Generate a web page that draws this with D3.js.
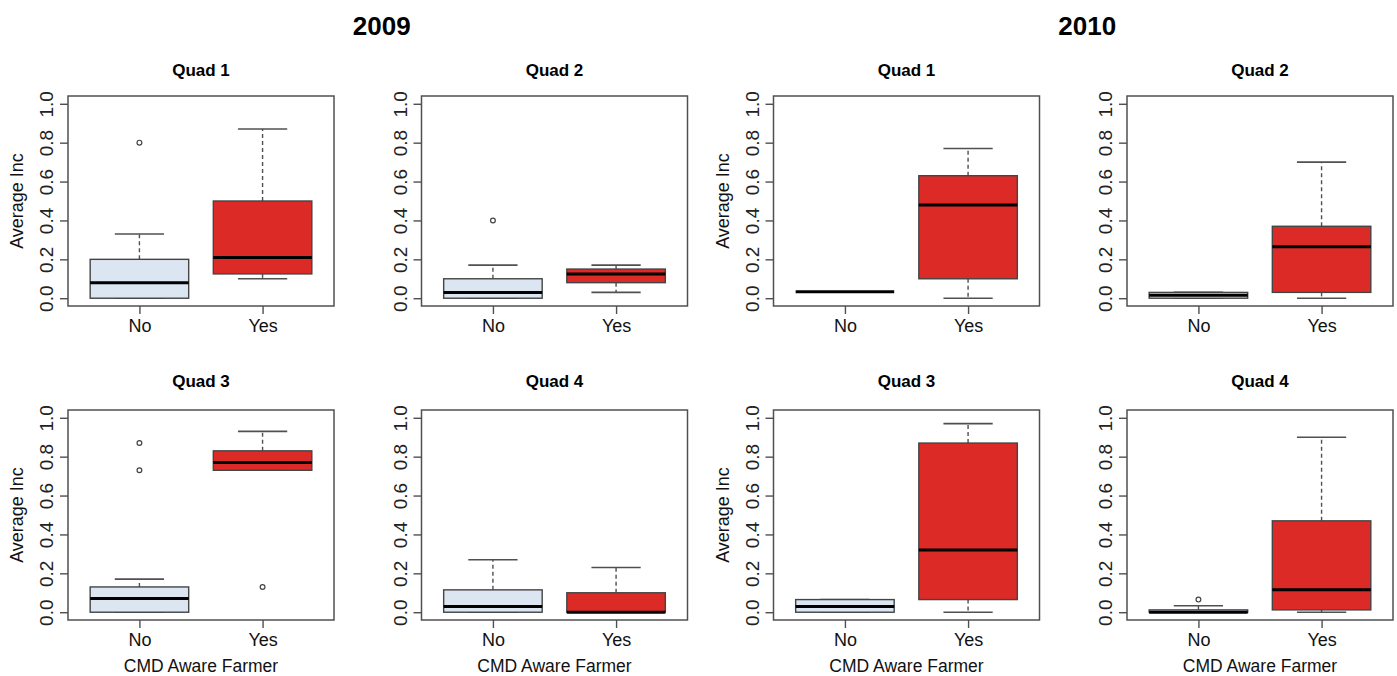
<!DOCTYPE html>
<html>
<head>
<meta charset="utf-8">
<script src="https://cdn.jsdelivr.net/npm/d3@7"></script>
<style>
  html, body { margin: 0; padding: 0; background: #fff; }
  svg { display: block; font-family: "Liberation Sans", Arial, Helvetica, sans-serif; }
</style>
</head>
<body>
<svg id="chart" width="1397" height="676"></svg>
<script>
// ---------------- data ----------------
const years = ["2009", "2010"];
const quads = ["Quad 1", "Quad 2", "Quad 3", "Quad 4"];
const categories = ["No", "Yes"];
const yTicks = [0.0, 0.2, 0.4, 0.6, 0.8, 1.0];
const yLabel = "Average Inc";
const xLabel = "CMD Aware Farmer";

// five-number summaries per quad: [lower whisker, Q1, median, Q3, upper whisker]
const stats2009No  = [[0, 0, 0.08, 0.20, 0.33], [0, 0, 0.03, 0.10, 0.17], [0, 0, 0.07, 0.13, 0.17], [0, 0, 0.03, 0.115, 0.27]];
const stats2009Yes = [[0.10, 0.125, 0.21, 0.50, 0.87], [0.03, 0.08, 0.125, 0.15, 0.17], [0.73, 0.73, 0.77, 0.83, 0.93], [0, 0, 0, 0.10, 0.23]];
const stats2010No  = [[0.033, 0.033, 0.033, 0.033, 0.033], [0, 0, 0.015, 0.03, 0.03], [0, 0, 0.03, 0.065, 0.065], [0, 0, 0, 0.012, 0.033]];
const stats2010Yes = [[0, 0.10, 0.48, 0.63, 0.77], [0, 0.03, 0.265, 0.37, 0.70], [0, 0.065, 0.32, 0.87, 0.97], [0, 0.012, 0.115, 0.47, 0.90]];

// outliers per quad
const out2009No  = [[0.80], [0.40], [0.87, 0.73], []];
const out2009Yes = [[], [], [0.13], []];
const out2010No  = [[], [], [], [0.065]];
const out2010Yes = [[], [], [], []];

const statsByYear = { "2009": [stats2009No, stats2009Yes], "2010": [stats2010No, stats2010Yes] };
const outByYear   = { "2009": [out2009No, out2009Yes],     "2010": [out2010No, out2010Yes] };

// ---------------- layout ----------------
const colLeft = [68, 421.5, 773.5, 1127];
const rowTop = [96, 410];
const pw = 266, ph = 210;
const fillColors = ["#dce6f2", "#dc2b27"];
const frameColor = "#505050";

const svg = d3.select("#chart");

// year titles
years.forEach((yr, yi) => {
  const c0 = colLeft[yi * 2] + pw / 2, c1 = colLeft[yi * 2 + 1] + pw / 2;
  svg.append("text")
    .attr("x", (c0 + c1) / 2 + 4)
    .attr("y", 35)
    .attr("text-anchor", "middle")
    .attr("font-size", 26)
    .attr("font-weight", "bold")
    .attr("fill", "#000")
    .text(yr);
});

years.forEach((yr, yi) => {
  quads.forEach((q, qi) => {
    const col = yi * 2 + (qi % 2);
    const row = Math.floor(qi / 2);
    const left = colLeft[col], top = rowTop[row];

    const x = d3.scaleLinear().domain([0.42, 2.58]).range([0, pw]);
    const y = d3.scaleLinear().domain([-0.04, 1.04]).range([ph, 0]);

    const g = svg.append("g").attr("transform", `translate(${left},${top})`);

    // title
    g.append("text")
      .attr("x", pw / 2)
      .attr("y", row === 0 ? -20 : -23)
      .attr("text-anchor", "middle")
      .attr("font-size", 17)
      .attr("font-weight", "bold")
      .attr("fill", "#000")
      .text(q);

    // boxes
    categories.forEach((cat, ci) => {
      const s = statsByYear[yr][ci][qi];
      const outs = outByYear[yr][ci][qi];
      const cx = x(ci + 1);
      const bw = x(1.4) - x(0.6);
      const sw = bw / 2;

      // whiskers (dashed)
      g.append("line")
        .attr("x1", cx).attr("x2", cx)
        .attr("y1", y(s[3])).attr("y2", y(s[4]))
        .attr("stroke", frameColor).attr("stroke-width", 1.4)
        .attr("stroke-dasharray", "4,3");
      g.append("line")
        .attr("x1", cx).attr("x2", cx)
        .attr("y1", y(s[1])).attr("y2", y(s[0]))
        .attr("stroke", frameColor).attr("stroke-width", 1.4)
        .attr("stroke-dasharray", "4,3");
      // staples
      [s[0], s[4]].forEach(v => {
        g.append("line")
          .attr("x1", cx - sw / 2).attr("x2", cx + sw / 2)
          .attr("y1", y(v)).attr("y2", y(v))
          .attr("stroke", frameColor).attr("stroke-width", 1.6);
      });
      // box
      g.append("rect")
        .attr("x", cx - bw / 2)
        .attr("y", y(s[3]))
        .attr("width", bw)
        .attr("height", Math.max(0, y(s[1]) - y(s[3])))
        .attr("fill", fillColors[ci])
        .attr("stroke", "#444")
        .attr("stroke-width", 1.4);
      // median
      g.append("line")
        .attr("x1", cx - bw / 2).attr("x2", cx + bw / 2)
        .attr("y1", y(s[2])).attr("y2", y(s[2]))
        .attr("stroke", "#000").attr("stroke-width", 3);
      // outliers
      outs.forEach(v => {
        g.append("circle")
          .attr("cx", cx).attr("cy", y(v)).attr("r", 2.4)
          .attr("fill", "none").attr("stroke", "#444").attr("stroke-width", 1.2);
      });
    });

    // y axis
    const ya = g.append("g")
      .call(d3.axisLeft(y).tickValues(yTicks).tickFormat(d3.format(".1f")).tickSize(8).tickSizeOuter(0));
    ya.select(".domain").remove();
    ya.selectAll(".tick line").attr("stroke", frameColor).attr("stroke-width", 1.4);
    ya.selectAll(".tick text")
      .attr("x", null).attr("dy", null)
      .attr("transform", "translate(-15,0) rotate(-90)")
      .attr("text-anchor", "middle")
      .attr("font-size", 19)
      .attr("fill", "#222");

    // x axis
    const xa = g.append("g")
      .attr("transform", `translate(0,${ph})`)
      .call(d3.axisBottom(x).tickValues([1, 2]).tickFormat((d) => categories[d - 1]).tickSize(8).tickSizeOuter(0));
    xa.select(".domain").remove();
    xa.selectAll(".tick line").attr("stroke", frameColor).attr("stroke-width", 1.4);
    xa.selectAll(".tick text")
      .attr("y", 26).attr("dy", null)
      .attr("font-size", 18)
      .attr("fill", "#111");

    // frame
    g.append("rect")
      .attr("x", 0).attr("y", 0).attr("width", pw).attr("height", ph)
      .attr("fill", "none").attr("stroke", frameColor).attr("stroke-width", 1.5);

    // y label on left column of each year
    if (qi % 2 === 0) {
      g.append("text")
        .attr("transform", `translate(-45,${ph / 2}) rotate(-90)`)
        .attr("text-anchor", "middle")
        .attr("font-size", 18)
        .attr("fill", "#111")
        .text(yLabel);
    }
    // x label on bottom row
    if (row === 1) {
      g.append("text")
        .attr("x", pw / 2)
        .attr("y", ph + 52)
        .attr("text-anchor", "middle")
        .attr("font-size", 17.5)
        .attr("fill", "#111")
        .text(xLabel);
    }
  });
});
</script>
</body>
</html>
